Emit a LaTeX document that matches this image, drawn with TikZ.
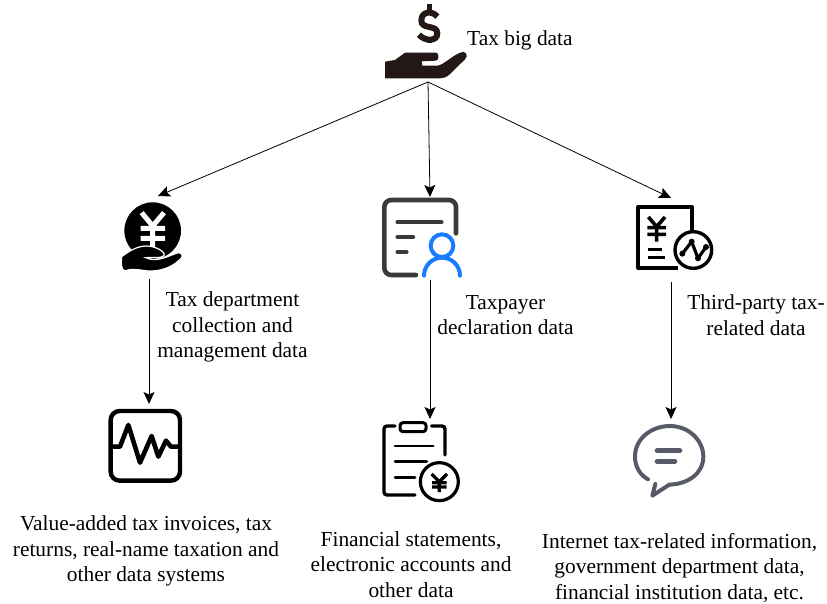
\documentclass[tikz,border=0pt]{standalone}
\usepackage{fontspec}
\setmainfont{Liberation Serif}
\usetikzlibrary{arrows.meta}
\definecolor{docgray}{HTML}{3A3A3A}
\definecolor{userblue}{HTML}{1A7BFF}
\definecolor{bubblegray}{HTML}{565B67}
\definecolor{inkblack}{HTML}{231815}
\tikzset{
  x=1pt,y=-1pt,
  iconbox/.style={inner sep=0pt,minimum width=#1,minimum height=#1},
  label/.style={inner sep=0pt,align=center,font=\fontsize{21.4}{25.5}\selectfont},
  link/.style={line width=0.8pt,-{Stealth[length=12pt,width=11pt,inset=2.5pt]}},
  stroke/.style={line cap=round,line join=round},
  zoomed/.style 2 args={shift={(#1,#2)},scale=0.33333}
}
\begin{document}
\begin{tikzpicture}
\useasboundingbox (0,0) rectangle (827,604);
\fill[white] (0,0) rectangle (827,604);

% icon anchors
\node[iconbox=2pt] (hub) at (428,82) {};
\node[iconbox=2pt] (inA) at (158,196) {};
\node[iconbox=2pt] (inB) at (430,197) {};
\node[iconbox=2pt] (inC) at (671,198) {};
\node[iconbox=2pt] (outA) at (149,279) {};
\node[iconbox=2pt] (outB) at (430,280) {};
\node[iconbox=2pt] (outC) at (671,282) {};
\node[iconbox=2pt] (leafA) at (149,404) {};
\node[iconbox=2pt] (leafB) at (430,419) {};
\node[iconbox=2pt] (leafC) at (671,419) {};

% connectors
\draw[link] (hub.center) -- (inA.center);
\draw[link] (hub.center) -- (inB.center);
\draw[link] (hub.center) -- (inC.center);
\draw[link] (outA.center) -- (leafA.center);
\draw[link] (outB.center) -- (leafB.center);
\draw[link] (outC.center) -- (leafC.center);

% top icon
\begin{scope}[zoomed={360}{0}]
  \draw[inkblack,line width=6pt,line cap=butt] (232,50) .. controls (218,32) and (184,32) .. (184,62)
     .. controls (184,90) and (232,72) .. (232,100) .. controls (232,125) and (195,125) .. (177,104);
  \draw[inkblack,line width=5pt] (207,12) -- (207,34) (207,115) -- (207,130);
  \fill[inkblack] (75,235) -- (75,185) -- (105,180) -- (135,158) -- (228,158)
    .. controls (238,158) and (238,182) .. (228,182) -- (185,184) -- (187,197) -- (232,197)
    .. controls (250,195) and (270,172) .. (300,158) .. controls (315,150) and (328,165) .. (315,178)
    -- (270,222) .. controls (260,232) and (250,235) .. (240,235) -- cycle;
\end{scope}

% yen coin with hand
\begin{scope}[zoomed={100}{190}]
  \fill[black] (158,122) circle (85);
  \draw[white,line width=5pt,line cap=butt] (125,68) -- (158,108) -- (192,68)
    (158,108) -- (158,180) (122,115) -- (195,115) (122,145) -- (195,145);
  \fill[black,draw=white,line width=1.2pt] (65,200) .. controls (85,185) and (110,168) .. (140,168)
    .. controls (165,168) and (198,185) .. (192,197) .. controls (182,207) and (155,200) .. (138,203)
    .. controls (170,220) and (210,195) .. (235,188) .. controls (250,188) and (250,204) .. (238,210)
    .. controls (210,237) and (175,243) .. (150,243) .. controls (125,243) and (100,232) .. (75,243)
    .. controls (63,240) and (63,220) .. (65,200) -- cycle;
\end{scope}

% document with user
\begin{scope}[zoomed={370}{185}]
  \draw[docgray,line width=4.6pt,line cap=round,rounded corners=7pt]
    (138,270) -- (43,270) -- (43,45) -- (258,45) -- (258,145);
  \draw[docgray,stroke,line width=3.8pt] (82,112) -- (215,112) (82,156) -- (130,156) (82,201) -- (110,201);
  \draw[userblue,line width=4pt] (216,182) circle (34);
  \draw[userblue,line width=4pt,line cap=round] (162,272) arc (-180:0:54);
\end{scope}

% receipt with chart
\begin{scope}[zoomed={625}{195}]
  \draw[black,line width=4pt,line join=round] (160,218) -- (40,218) -- (40,35) -- (200,35) -- (200,105);
  \draw[black,line width=3.6pt] (70,66) -- (95,95) -- (120,66) (95,95) -- (95,140)
     (67,98) -- (123,98) (67,118) -- (123,118);
  \draw[black,line width=3.6pt] (70,163) -- (110,163) (70,188) -- (120,188);
  \draw[black,line width=3.4pt,fill=white] (205,165) circle (55);
  \draw[black,line width=3.2pt,line join=round] (172,176) -- (200,140) -- (219,190) -- (243,156);
  \fill[black] (172,176) circle (9) (200,140) circle (9) (219,190) circle (9) (243,156) circle (9);
\end{scope}

% monitor
\begin{scope}[zoomed={95}{400}]
  \draw[black,line width=4.4pt,rounded corners=9pt] (47,33) rectangle (255,242);
  \draw[black,line width=4.6pt,line join=round,line cap=butt]
    (52,140) -- (75,140) -- (100,75) -- (135,188) -- (170,108) -- (190,170) -- (213,122) -- (228,140) -- (252,140);
\end{scope}

% clipboard with yen
\begin{scope}[zoomed={370}{410}]
  \draw[black,line width=3.4pt,line cap=round,rounded corners=3pt] (75,48) -- (42,48) -- (42,255) -- (135,255);
  \draw[black,line width=3.4pt,line cap=round,rounded corners=3pt] (185,48) -- (225,48) -- (225,135);
  \draw[black,line width=3pt,rounded corners=3pt] (90,38) rectangle (168,65);
  \draw[black,stroke,line width=2.8pt] (75,108) -- (190,108) (75,155) -- (170,155) (75,202) -- (135,202);
  \draw[black,line width=3.2pt] (208,215) circle (57);
  \draw[black,line width=3.2pt] (185,192) -- (208,215) -- (231,192) (208,215) -- (208,246)
     (186,218) -- (230,218) (186,231) -- (230,231);
\end{scope}

% speech bubble
\begin{scope}[zoomed={620}{410}]
  \draw[bubblegray,line width=4pt,line cap=round,line join=round]
    (84,208) .. controls (60,195) and (45,170) .. (45,140)
    .. controls (45,85) and (95,48) .. (150,48)
    .. controls (205,48) and (250,90) .. (250,140)
    .. controls (250,190) and (205,222) .. (148,224)
    -- (97,257) -- (106,222);
  \draw[bubblegray,line width=4.6pt,line cap=round] (111,122) -- (180,122) (111,154) -- (165,154);
\end{scope}

% labels
\node[label,anchor=west] (t0) at (467,40) {Tax big data};
\node[label] (t1) at (232.5,327) {Tax department\\collection and\\management data};
\node[label] (t2) at (505.5,315) {Taxpayer\\declaration data};
\node[label] (t3) at (756,315) {Third-party tax-\\related data};
\node[label] (t4) at (146,551) {Value-added tax invoices, tax\\returns, real-name taxation and\\other data systems};
\node[label] (t5) at (411,564.5) {Financial statements,\\electronic accounts and\\other data};
\node[label] (t6) at (679.5,568) {Internet tax-related information,\\government department data,\\financial institution data, etc.};
\end{tikzpicture}
\end{document}
